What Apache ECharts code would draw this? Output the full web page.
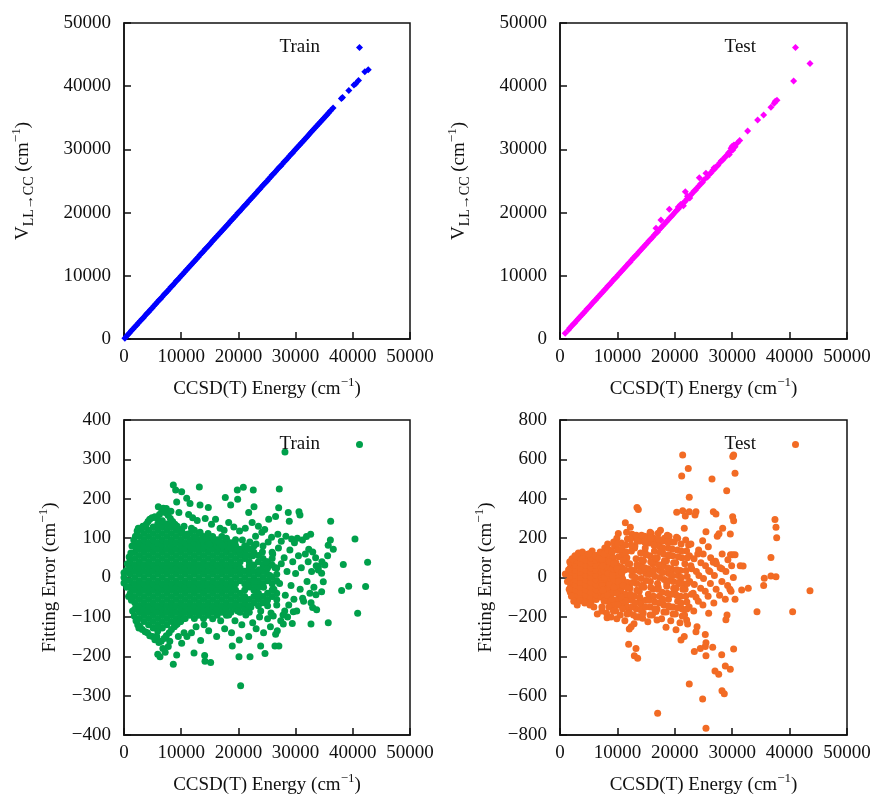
<!DOCTYPE html>
<html lang="en">
<head>
<meta charset="UTF-8">
<title>Fitting results</title>
<script src="https://cdn.jsdelivr.net/npm/echarts@6/dist/echarts.min.js"></script>
<style>
  html, body { margin: 0; padding: 0; background: #fff; }
  #main { width: 873px; height: 796px; }
</style>
</head>
<body>
<div id="main"></div>
<script>
// axis ticks (same for every panel on x)
var energyTicks = [0, 10000, 20000, 30000, 40000, 50000];
var errTicksTrain = [-400, -300, -200, -100, 0, 100, 200, 300, 400];
var errTicksTest = [-800, -600, -400, -200, 0, 200, 400, 600, 800];

// top left: fitted vs ab initio energy, training set
var trainV = [
  [0,-20],[150,120],[400,380],[700,720],[1000,980],[1300,1330],[1600,1580],[1900,1920],[2200,2190],[2500,2530],
  [2800,2790],[3100,3120],[3400,3380],[3700,3710],[4000,4020],[4300,4280],[4600,4610],[4900,4880],[5200,5230],[5500,5490],
  [5800,5800],[6100,6130],[6400,6380],[6700,6700],[7000,7030],[7300,7280],[7600,7610],[7900,7890],[8200,8220],[8500,8480],
  [8800,8800],[9100,9120],[9400,9380],[9700,9710],[10000,10020],[10300,10290],[10600,10600],[10900,10930],[11200,11180],[11500,11510],
  [11800,11800],[12100,12120],[12400,12380],[12700,12710],[13000,12990],[13300,13320],[13600,13590],[13900,13900],[14200,14230],[14500,14480],
  [14800,14810],[15100,15090],[15400,15420],[15700,15690],[16000,16010],[16300,16300],[16600,16620],[16900,16880],[17200,17210],[17500,17500],
  [17800,17820],[18100,18090],[18400,18400],[18700,18730],[19000,18980],[19300,19310],[19600,19600],[19900,19920],[20200,20180],[20500,20510],
  [20800,20800],[21100,21130],[21400,21380],[21700,21710],[22000,22000],[22300,22320],[22600,22580],[22900,22910],[23200,23200],[23500,23530],
  [23800,23780],[24100,24110],[24400,24400],[24700,24720],[25000,24980],[25300,25310],[25600,25600],[25900,25930],[26200,26180],[26500,26510],
  [26800,26800],[27100,27120],[27400,27380],[27700,27700],[28000,28030],[28300,28280],[28600,28610],[28900,28900],[29200,29220],[29500,29480],
  [29800,29810],[30100,30100],[30400,30420],[30700,30690],[31000,31010],[31300,31300],[31600,31620],[31900,31880],[32200,32210],[32500,32500],
  [32800,32820],[33100,33090],[33400,33410],[33700,33700],[34000,34030],[34300,34280],[34600,34610],[34900,34900],[35200,35220],[35500,35490],
  [35800,35810],[36100,36100],[36550,36550],[38000,38050],[38200,38200],[39300,39300],[40200,40200],[40500,40400],[41000,40900],
  [42100,42300],[42700,42600]
];

// top right: fitted vs ab initio energy, test set
var testV = [
  [900,900],[1500,1450],[1700,1750],[2000,2000],[2300,2330],[2600,2580],[2900,2920],[3200,3190],[3500,3520],[3800,3780],
  [4100,4110],[4400,4400],[4700,4730],[5000,4980],[5300,5310],[5600,5600],[5900,5930],[6200,6180],[6500,6510],[6800,6800],
  [7100,7130],[7400,7380],[7700,7710],[8000,8000],[8300,8330],[8600,8580],[8900,8910],[9200,9200],[9500,9530],[9800,9780],
  [10100,10110],[10400,10400],[10700,10730],[11000,10980],[11300,11310],[11600,11600],[11900,11950],[12200,12160],[12500,12520],[12800,12800],
  [13100,13150],[13400,13380],[13700,13720],[14000,14000],[14300,14330],[14600,14580],[14900,14910],[15200,15200],[15500,15530],[15800,15780],
  [16100,16110],[16400,16400],[16700,16750],[17000,16950],[17300,17330],[17600,17600],[17590,18830],[16720,17510],[17900,17920],[18200,18180],
  [18500,18510],[18800,18800],[19040,20520],[19100,19130],[19400,19380],[19700,19710],[20000,20000],[20300,20350],[20600,20550],[20600,20900],
  [20900,20930],[21000,21300],[21200,21200],[21500,21560],[21500,21100],[21830,23300],[21800,21750],[22100,22150],[22200,22600],[22400,22380],
  [22600,22300],[22700,22760],[23000,23000],[23300,23380],[23600,23550],[23900,23950],[24200,24200],[24270,25520],[24500,24560],[24800,24780],
  [25100,25180],[25430,26210],[25700,25650],[26000,26050],[26300,26280],[26600,26700],[26850,27100],[26900,26850],[27200,27250],[27500,27450],
  [27800,27850],[28100,28200],[28400,28350],[28700,28750],[29000,28950],[29300,29400],[29500,29200],[29600,29650],[29800,30200],[29900,29850],
  [30000,30500],[30100,29900],[30200,30300],[30300,30700],[30400,30600],[30500,30400],[30900,31000],[31300,31400],[32690,32910],[34430,34650],
  [35480,35440],[36750,36650],[37330,37290],[37500,37600],[37800,37760],[40700,40820],[43550,43610]
];

// bottom left: fitting error, training set. dense core read as columns [energy, errors...]
var trainErrCore = [
  [1100, -40,-24,-8,8,24,40],
  [1900, -80,-64,-48,-32,-16,0,16,32,48,64,80],
  [2700, -104,-88,-72,-56,-40,-24,-8,8,24,40,56,72,88,104],
  [3500, -112,-96,-80,-64,-48,-32,-16,0,16,32,48,64,80,96,112],
  [4300, -120,-104,-88,-72,-56,-40,-24,-8,8,24,40,56,72,88,104,120],
  [5100, -128,-112,-96,-80,-64,-48,-32,-16,0,16,32,48,64,80,96,112,128],
  [5900, -136,-120,-104,-88,-72,-56,-40,-24,-8,8,24,40,56,72,88,104,120,136],
  [6700, -128,-112,-96,-80,-64,-48,-32,-16,0,16,32,48,64,80,96,112,128,144],
  [7500, -120,-104,-88,-72,-56,-40,-24,-8,8,24,40,56,72,88,104,120,136],
  [8300, -112,-96,-80,-64,-48,-32,-16,0,16,32,48,64,80,96,112,128],
  [9100, -120,-104,-88,-72,-56,-40,-24,-8,8,24,40,56,72,88,104,120],
  [9900, -112,-96,-80,-64,-48,-32,-16,0,16,32,48,64,80,96,112],
  [10700, -104,-88,-72,-56,-40,-24,-8,8,24,40,56,72,88,104],
  [11500, -96,-80,-64,-48,-32,-16,0,16,32,48,64,80,96,112],
  [12300, -104,-88,-72,-56,-40,-24,-8,8,24,40,56,72,88,104,120],
  [13100, -96,-80,-64,-48,-32,-16,0,16,32,48,64,80,96,112],
  [13900, -104,-88,-72,-56,-40,-24,-8,8,24,40,56,72,88,104],
  [14700, -96,-80,-64,-48,-32,-16,0,16,32,48,64,80,96,112],
  [15500, -88,-72,-56,-40,-24,-8,8,24,40,56,72,88,104],
  [16300, -96,-80,-64,-48,-32,-16,0,16,32,48,64,80,96],
  [17100, -88,-72,-56,-40,-24,-8,8,24,40,56,72,88,104],
  [17900, -96,-80,-64,-48,-32,-16,0,16,32,48,64,80,96],
  [18700, -88,-72,-56,-40,-24,-8,8,24,40,56,72,88],
  [19500, -80,-64,-48,-32,-16,0,16,32,48,64,80,96],
  [20300, -88,-72,-56,-40,-8,8,24,40,56,72],
  [21100, -80,-64,-48,-32,-16,0,16,48,64,80],
  [21900, -88,-72,-56,-24,-8,8,24,40,56,72],
  [22700, -64,-48,-32,-16,0,16,32,64,80],
  [23500, -72,-56,-40,-24,-8,8,40,56],
  [24300, -64,-48,-16,0,16,32,48,80],
  [25100, -72,-56,-40,-8,8,24,40],
  [25900, -48,-32,-16,0,32,48,64],
  [26700, -56,-40,-8,8,24]
];
var trainErrScatter = [
  [0,-14],[0,0],[0,12],[300,-8],[400,18],[500,-25],[600,35],[800,-48],[900,52],
  [1200,62],[1300,-58],[1400,80],[1500,-85],[1700,95],[1800,-98],[2000,105],[2100,-110],[2300,118],[2400,-120],[2600,-128],[2500,125],
  [2900,122],[3300,130],[3600,128],[3900,135],[4200,142],[4500,148],[4900,152],[5400,154],[5800,150],[6200,160],[6600,168],[6870,176],
  [7200,165],[7700,158],[8100,150],[8500,142],[8900,135],[9300,130],[9700,122],[10100,118],
  [2800,-125],[3200,-132],[3700,-138],[4100,-140],[4500,-148],[5000,-150],[5400,-158],[5700,-150],[6100,-165],[6500,-162],[7000,-155],
  [7400,-148],[7900,-140],[8300,-132],[8800,-125],[9300,-118],[9800,-112],[10400,-105],
  [8620,235],[9030,222],[10080,218],[13170,230],[10960,201],[9210,192],[11540,188],[13290,184],[14740,178],[17710,203],[18650,184],
  [19810,222],[20860,229],[19870,199],[22600,222],[22730,180],[27150,225],[27040,177],[28140,319],[28720,165],[30590,167],[30760,159],
  [32630,110],[36130,143],[40380,98],[42590,39],[38340,33],
  [6000,180],[7400,175],[8200,168],[9600,165],[11300,160],[12000,152],[12800,145],[14200,150],[15300,135],[16000,148],[16800,125],
  [17500,120],[18300,140],[19200,128],[20200,118],[21200,125],[21800,165],[22400,140],[23000,105],[23500,130],[24100,115],[24600,122],
  [25300,148],[25800,102],[26500,155],[26900,110],[27500,92],[28300,105],[28900,143],[29300,98],[29800,88],[30300,100],[31200,95],
  [31900,104],[32300,72],[33000,65],[33500,50],[34000,28],[34600,40],[35100,32],[35600,55],[35700,82],[36080,95],[36590,72],
  [34550,11],[33970,19],[34840,-11],
  [20500,60],[20900,-55],[21400,80],[21600,-20],[21900,30],[22200,-75],[22500,55],[22800,-10],[23100,85],[23300,-45],[23600,20],
  [23900,-85],[24200,65],[24400,-25],[24800,40],[25000,-60],[25200,90],[25500,5],[25700,-90],[26000,60],[26200,-30],[26400,25],
  [26700,-70],[27000,75],[27200,-15],[27500,35],[27800,-95],[28000,50],[28200,-45],[28500,15],[28800,-70],[29000,70],[29200,-20],
  [29500,40],[29700,-55],[30000,10],[30200,-85],[30500,55],[30800,-30],[31000,25],[31400,-60],[31700,60],[32000,-10],[32200,40],
  [32500,-40],[32800,15],[33200,-25],[33600,30],
  [32700,-64],[32980,-76],[33680,-82],[31230,-53],[34550,-36],[33560,-44],[29600,-87],[27850,-118],[26510,-144],
  [38050,-33],[39280,-22],[42240,-23],[40850,-91],[35710,-115],[32690,-118],[29420,-117],[27080,-174],[26390,-174],[24650,-193],
  [23890,-174],[22030,-201],[20100,-201],[20390,-275],[20160,-159],[18930,-174],[15150,-216],[14160,-213],[14100,-198],[12240,-192],
  [9210,-197],[8620,-220],[6290,-201],[7740,-175],[10080,-167],[5710,-150],
  [11000,-150],[11800,-140],[12600,-125],[13400,-160],[14000,-120],[14800,-135],[15500,-105],[16200,-150],[16900,-110],[17600,-130],
  [18300,-95],[18800,-140],[19400,-110],[19900,-85],[20600,-120],[21300,-95],[21800,-150],[22500,-115],[23100,-130],[23700,-100],
  [24400,-140],[25100,-105],[25600,-125],[26100,-98],[26800,-135],[27400,-110],[28100,-85],[28600,-100],[6800,-180],[7200,-190],
  [5900,-195],[8000,-162],[9500,-150],[10500,-140],
  [10500,130],[11000,110],[11800,125],[12500,100],[13300,115],[13700,95],[14400,100],[15000,85],[15800,95],[16500,90],[17200,80],
  [17900,100],[18600,75],[19400,85],[20000,70],[20700,95],[21300,55],[22000,90]
];

// bottom right: fitting error, test set
var testErrCore = [
  [1800, -75,-50,-25,0,25,50,75],
  [2700, -112,-87,-62,-37,-12,12,37,62,87],
  [3600, -100,-75,-50,-25,0,25,50,75,100],
  [4500, -112,-87,-62,-37,-12,12,37,62,87,112],
  [5400, -125,-100,-75,-50,-25,0,25,50,75,100,125],
  [6300, -112,-87,-62,-37,-12,12,37,62,87,112],
  [7200, -100,-75,-50,-25,0,25,50,75,100],
  [8100, -87,-62,-37,-12,12,37,62,87],
  [9000, -75,-50,-25,0,25,50,75],
  [9900, -62,-37,-12,12,37,62],
  [10800, -50,-25,0,25,50]
];
var testErrScatter = [
  [930,18],[1300,-20],[1500,40],[1600,-60],[1700,80],[2000,-95],[2100,95],[2400,-120],[2600,110],[3000,-140],[3200,125],
  [3500,-118],[3900,130],[4300,-130],[4800,118],[5200,-140],[5600,135],[5900,-150],[6100,110],[6500,-185],[6800,95],[7300,-170],
  [7700,120],[8200,-205],[8600,140],[9000,-150],[9500,160],[9900,-210],[10160,224],[10400,-140],[11000,120],[11380,278],[11600,-100],
  [12000,-160],[12250,255],[12560,220],[13300,200],[13000,150],[12800,-190],[13410,356],[13640,346],[11960,-339],[12070,-262],
  [12400,-250],[13240,-360],[12950,-398],[13530,-410],[13820,-199],[14400,-207],[13900,-120],[14200,60],[14500,-40],[14800,130],
  [15280,207],[15600,-100],[15900,223],[16200,20],[16400,180],[16720,-173],[16900,-216],[16600,90],[17010,-690],[17100,-50],
  [17300,160],[17500,240],[17800,-120],[18000,70],[18470,-253],[18200,200],[18600,-30],[18900,110],[19000,210],[19300,-150],
  [19600,40],[19900,180],[20000,-80],[20210,-266],[20330,331],[20500,200],[20800,-30],[21080,-317],[21200,515],[21370,622],
  [21370,339],[21650,-300],[21650,250],[21830,312],[22060,-216],[22230,-236],[22350,554],[22520,407],[22520,334],[22520,-541],
  [22400,165],[22800,60],[23200,-80],[23400,-376],[23520,317],[23690,334],[23870,-250],[23690,-275],[24000,120],[24440,-360],
  [24850,187],[24850,-617],[25310,-351],[25310,-289],[25430,-331],[25430,-397],[25430,232],[25430,-766],[25840,156],[25900,-182],
  [26100,30],[26480,500],[26600,-354],[26710,334],[26700,78],[27000,-475],[27100,82],[27170,322],[27400,210],[27650,-491],
  [27700,222],[28170,-393],[28200,45],[28220,-575],[28340,250],[28620,-591],[28800,-449],[28900,-214],[29040,441],[29100,-190],
  [29600,-60],[29670,-466],[29670,221],[29700,115],[30080,309],[30100,115],[30250,288],[30250,622],[30100,615],[30250,-363],
  [30490,529],[30490,-111],[30500,115],[31650,-63],[31400,60],[31900,58],[32800,-55],[34320,-174],[35480,-41],[35590,-4],
  [36750,102],[36750,8],[37450,295],[37630,255],[37630,4],[37750,202],[40530,-174],[43550,-67],
  [5000,120],[7000,130],[8400,-100],[9500,-120]
];
var testErrMid = [
  [7300,-150],[7700,-95],[7400,-40],[7650,35],[7350,90],[7800,150],
  [8100,-180],[8500,-120],[8200,-60],[8450,-10],[8150,50],[8550,110],[8300,170],
  [8900,-200],[9300,-140],[9000,-80],[9350,-20],[8950,40],[9250,100],
  [9700,-170],[10100,-110],[9800,-50],[10150,15],[9750,75],[10050,140],[9900,200],
  [10500,-190],[10900,-130],[10600,-70],[10950,-10],[10550,55],[10850,115],[10700,175],
  [11300,-220],[11700,-150],[11400,-85],[11750,-25],[11350,40],[11650,100],[11450,165],[11600,230],
  [12100,-180],[12500,-115],[12200,-55],[12550,10],[12150,70],[12450,135],[12300,195],
  [12900,-235],[13300,-160],[13000,-95],[13350,-30],[12950,35],[13250,95],[13050,160],[13300,215],
  [13700,-200],[14100,-135],[13800,-70],[14150,-5],[13750,60],[14050,125],[13900,185],
  [14500,-180],[14900,-115],[14600,-50],[14950,20],[14550,85],[14850,150],[14700,210],
  [15300,-225],[15700,-150],[15400,-85],[15750,-20],[15350,45],[15650,110],[15450,175],[15700,230],
  [16100,-190],[16500,-125],[16200,-60],[16550,5],[16150,70],[16450,135],[16300,200],
  [16900,-160],[17300,-95],[17000,-30],[17350,35],[16950,100],[17250,165],[17100,225],
  [17700,-210],[18100,-140],[17800,-75],[18150,-10],[17750,55],[18050,120],[17900,185],
  [18500,-175],[18900,-110],[18600,-45],[18950,20],[18550,85],[18850,150],[18700,215],
  [19300,-220],[19700,-150],[19400,-85],[19750,-20],[19350,45],[19650,110],[19500,180],
  [20100,-185],[20500,-120],[20200,-55],[20550,10],[20150,75],[20450,140],[20300,205],
  [20900,-230],[21300,-160],[21000,-95],[21350,-30],[20950,35],[21250,100],[21100,170],
  [21700,-190],[22100,-125],[21800,-60],[22150,5],[21750,70],[22050,135],[21900,190],
  [22500,-150],[22900,-85],[22600,-20],[22950,45],[22550,110],[22800,170],
  [23300,-170],[23700,-100],[23400,-35],[23750,30],[23350,95],
  [24100,-120],[24500,-55],[24200,10],[24550,75],[24150,140],
  [24900,-140],[25300,-70],[25000,-5],[25350,60],[24950,120],
  [25800,-95],[26200,-30],[25900,35],[26250,100],
  [26800,-130],[27200,-60],[26900,10],[27250,70],
  [27800,-90],[28200,-20],[27900,50],[28250,120],
  [28800,-110],[29200,-40],[28900,30],[29250,90],
  [29800,-70],[30200,0],[29900,60],
  // second pass over the same band, filling between the first
  [7700,-120],[7500,-65],[7750,0],[7450,60],[7700,120],
  [8500,-150],[8300,-90],[8600,-35],[8350,20],[8600,80],[8400,140],
  [9300,-170],[9100,-110],[9400,-50],[9150,10],[9400,70],[9100,130],[9350,180],
  [10100,-140],[9900,-80],[10200,-20],[9950,45],[10200,105],[10000,170],
  [10900,-160],[10700,-100],[11000,-40],[10750,25],[11000,85],[10800,145],
  [11700,-185],[11500,-120],[11800,-55],[11800,70],[11500,130],[11750,195],
  [12500,-150],[12300,-85],[12600,-25],[12350,40],[12400,165],
  [13300,-200],[13100,-130],[13400,-65],[13150,0],[13400,65],[13450,185],
  [14100,-165],[13900,-100],[14200,-40],[13950,30],[14200,90],[14200,215],
  [14900,-150],[15000,-15],[14750,50],[15000,115],[14750,180],
  [15700,-190],[15500,-115],[15800,-50],[15550,15],[15800,80],[15800,200],
  [16500,-160],[16300,-95],[16350,40],[16600,100],[16350,165],
  [17300,-130],[17100,-60],[17400,0],[17150,65],[17400,130],[17150,195],
  [18100,-175],[17900,-110],[17950,25],[18200,85],[17950,150],
  [18900,-145],[18700,-80],[19000,-15],[18750,50],[19000,115],[18750,180],
  [19700,-185],[19800,-55],[19550,10],[19800,75],[19550,145],
  [20500,-155],[20300,-90],[20600,-25],[20350,40],[20600,105],
  [21300,-195],[21100,-130],[21400,-60],[21150,0],[21150,135],
  [22100,-160],[21900,-95],[22200,-30],[21950,35],[22200,100]
];

var FONT = 'Liberation Serif, Times New Roman, serif';
var INK = '#111';

// unpack the column blocks into [energy, error] pairs
function fromColumns(cols) {
  var out = [];
  cols.forEach(function (c) {
    for (var i = 1; i < c.length; i++) out.push([c[0], c[i]]);
  });
  return out;
}

function minus(v) { return String(v).replace('-', '\u2212'); }

var nameRich = {
  a: { fontSize: 19, fontFamily: FONT, color: INK, lineHeight: 26 },
  s: { fontSize: 13, fontFamily: FONT, color: INK, lineHeight: 13, verticalAlign: 'top' },
  b: { fontSize: 14, fontFamily: FONT, color: INK, lineHeight: 14, verticalAlign: 'bottom' }
};
var xName = '{a|CCSD(T) Energy (cm}{s|\u22121}{a|)}';
var vName = '{a|V}{b|LL\u2192CC}{a| (cm}{s|\u22121}{a|)}';
var errName = '{a|Fitting Error (cm}{s|\u22121}{a|)}';

var grids = [
  { left: 124, top: 23, width: 286, height: 316 },
  { left: 560, top: 23, width: 287, height: 316 },
  { left: 124, top: 420, width: 286, height: 315 },
  { left: 560, top: 420, width: 287, height: 315 }
];
grids.forEach(function (g) {
  g.show = true; g.borderColor = INK; g.borderWidth = 1.5;
  g.backgroundColor = 'transparent'; g.outerBoundsMode = 'none';
});

function axisBase(gi) {
  return {
    gridIndex: gi,
    type: 'value',
    nameLocation: 'middle',
    nameTextStyle: { rich: nameRich },
    axisLine: { show: true, onZero: false, lineStyle: { color: INK, width: 1.5 } },
    axisTick: { show: true, inside: true, length: 7, lineStyle: { color: INK, width: 1.5 } },
    axisLabel: { fontSize: 19, fontFamily: FONT, color: INK, formatter: minus },
    splitLine: { show: false }
  };
}
function xAxis(gi) {
  var a = axisBase(gi);
  a.min = energyTicks[0]; a.max = energyTicks[energyTicks.length - 1]; a.interval = energyTicks[1] - energyTicks[0];
  a.name = xName; a.nameGap = 37;
  a.axisLabel.margin = 9;
  return a;
}
function yAxis(gi, ticks, name, gap) {
  var a = axisBase(gi);
  a.min = ticks[0]; a.max = ticks[ticks.length - 1]; a.interval = ticks[1] - ticks[0];
  a.name = name; a.nameGap = gap;
  a.axisLabel.margin = 13;
  return a;
}

var labels = { trainV: 'Train', testV: 'Test', trainErr: 'Train', testErr: 'Test' };
function legend(name, right, top) {
  return {
    data: [name], right: right, top: top, align: 'right', orient: 'vertical',
    padding: 0, itemWidth: 7, itemHeight: 7, selectedMode: false,
    formatter: function (n) { return labels[n]; },
    textStyle: { fontSize: 19, fontFamily: FONT, color: INK, padding: [0, 31, 0, 0] }
  };
}
function scatter(name, gi, data, symbol, color) {
  return {
    name: name, type: 'scatter', xAxisIndex: gi, yAxisIndex: gi,
    data: data, symbol: symbol, symbolSize: 7,
    itemStyle: { color: color, opacity: 1 }, silent: true
  };
}

var chart = echarts.init(document.getElementById('main'));
chart.setOption({
  animation: false,
  backgroundColor: '#fff',
  grid: grids,
  xAxis: [xAxis(0), xAxis(1), xAxis(2), xAxis(3)],
  yAxis: [
    yAxis(0, energyTicks, vName, 88),
    yAxis(1, energyTicks, vName, 88),
    yAxis(2, errTicksTrain, errName, 61),
    yAxis(3, errTicksTest, errName, 61)
  ],
  legend: [
    legend('trainV', 510, 38),
    legend('testV', 74, 38),
    legend('trainErr', 510, 435),
    legend('testErr', 74, 435)
  ],
  series: [
    scatter('trainV', 0, trainV, 'diamond', '#0000ff'),
    scatter('testV', 1, testV, 'diamond', '#ff00ff'),
    scatter('trainErr', 2, fromColumns(trainErrCore).concat(trainErrScatter), 'circle', '#00a04b'),
    scatter('testErr', 3, fromColumns(testErrCore).concat(testErrScatter, testErrMid), 'circle', '#f26b24')
  ]
});
</script>
</body>
</html>
